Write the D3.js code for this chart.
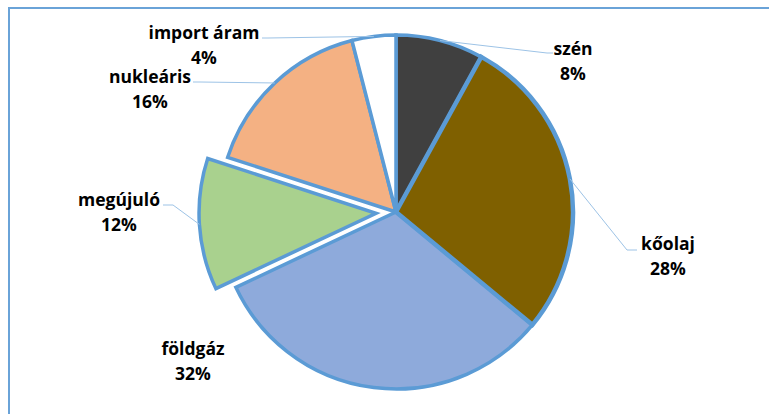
<!DOCTYPE html>
<html>
<head>
<meta charset="utf-8">
<script src="https://cdn.jsdelivr.net/npm/d3@7"></script>
<style>
  html, body { margin: 0; padding: 0; background: #fff; }
  svg { display: block; }
  text { font-family: "Open Sans", Calibri, sans-serif; font-weight: bold; fill: #000; }
</style>
</head>
<body>
<svg id="chart" width="769" height="414"></svg>
<script>
// energy mix, share in percent (clockwise from 12 o'clock)
const categories = ["szén", "kőolaj", "földgáz", "megújuló", "nukleáris", "import áram"];
const values     = [8, 28, 32, 12, 16, 4];
const colors     = ["#404040", "#7f6000", "#8eaadb", "#a9d18e", "#f4b183", "#ffffff"];
const exploded   = ["megújuló"];
const highlighted = ["kőolaj"];   // drawn with the heavier outline

// label placement: text centre x, first baseline y, leader elbow + end (null = no leader)
const labelLayout = {
  "szén":        { x: 573, y: 55,  elbow: [547, 53],  end: [553, 53] },
  "kőolaj":      { x: 668, y: 250, elbow: [627, 250], end: [637, 250] },
  "földgáz":     { x: 193, y: 355, elbow: null,       end: null },
  "megújuló":    { x: 119, y: 206, elbow: [173, 205], end: [163, 205] },
  "nukleáris":   { x: 150, y: 83,  elbow: [200, 82],  end: [193, 82] },
  "import áram": { x: 204, y: 39,  elbow: [268, 38],  end: [262, 38] },
};

const cx = 396, cy = 212, r = 177, explode = 20;

const svg = d3.select("#chart");

// chart area border (right / bottom edges fall outside the crop)
svg.append("rect")
  .attr("x", 9).attr("y", 8).attr("width", 800).attr("height", 450)
  .attr("fill", "none").attr("stroke", "#6aa3d8").attr("stroke-width", 2);

const pie = d3.pie().sort(null).value((d) => d.value);
const arcs = pie(categories.map((c, i) => ({ name: c, value: values[i], color: colors[i] })));

const arc = d3.arc().innerRadius(0).outerRadius(r);
const rim = d3.arc().innerRadius(r).outerRadius(r);

function offset(d) {
  if (!exploded.includes(d.data.name)) return [0, 0];
  const a = (d.startAngle + d.endAngle) / 2;
  return [Math.sin(a) * explode, -Math.cos(a) * explode];
}

const g = svg.append("g").attr("transform", `translate(${cx},${cy})`);

// highlighted slice goes last so its outline sits on top
const drawOrder = arcs.slice().sort((a, b) =>
  highlighted.includes(a.data.name) - highlighted.includes(b.data.name));

g.selectAll("path.slice").data(drawOrder).join("path")
  .attr("class", "slice")
  .attr("d", arc)
  .attr("transform", (d) => `translate(${offset(d)})`)
  .attr("fill", (d) => d.data.color)
  .attr("stroke", "#5b9bd5")
  .attr("stroke-width", (d) => highlighted.includes(d.data.name) ? 4.5 : 3.5)
  .attr("stroke-linejoin", "miter");

// leader lines
const leaders = arcs.filter((d) => labelLayout[d.data.name].end);
g.selectAll("polyline.leader").data(leaders).join("polyline")
  .attr("class", "leader")
  .attr("points", (d) => {
    const L = labelLayout[d.data.name];
    const [ox, oy] = offset(d);
    const [px, py] = rim.centroid(d);
    return [[px + ox, py + oy], [L.elbow[0] - cx, L.elbow[1] - cy], [L.end[0] - cx, L.end[1] - cy]]
      .map((p) => p.join(",")).join(" ");
  })
  .attr("fill", "none").attr("stroke", "#9dc3e6").attr("stroke-width", 1);

// labels
const labels = svg.append("g").selectAll("text").data(arcs).join("text")
  .attr("text-anchor", "middle")
  .attr("font-size", "17.5px")
  .attr("x", (d) => labelLayout[d.data.name].x)
  .attr("y", (d) => labelLayout[d.data.name].y);

labels.append("tspan").text((d) => d.data.name);
labels.append("tspan")
  .attr("x", (d) => labelLayout[d.data.name].x)
  .attr("dy", 25)
  .text((d) => d.data.value + "%");
</script>
</body>
</html>
